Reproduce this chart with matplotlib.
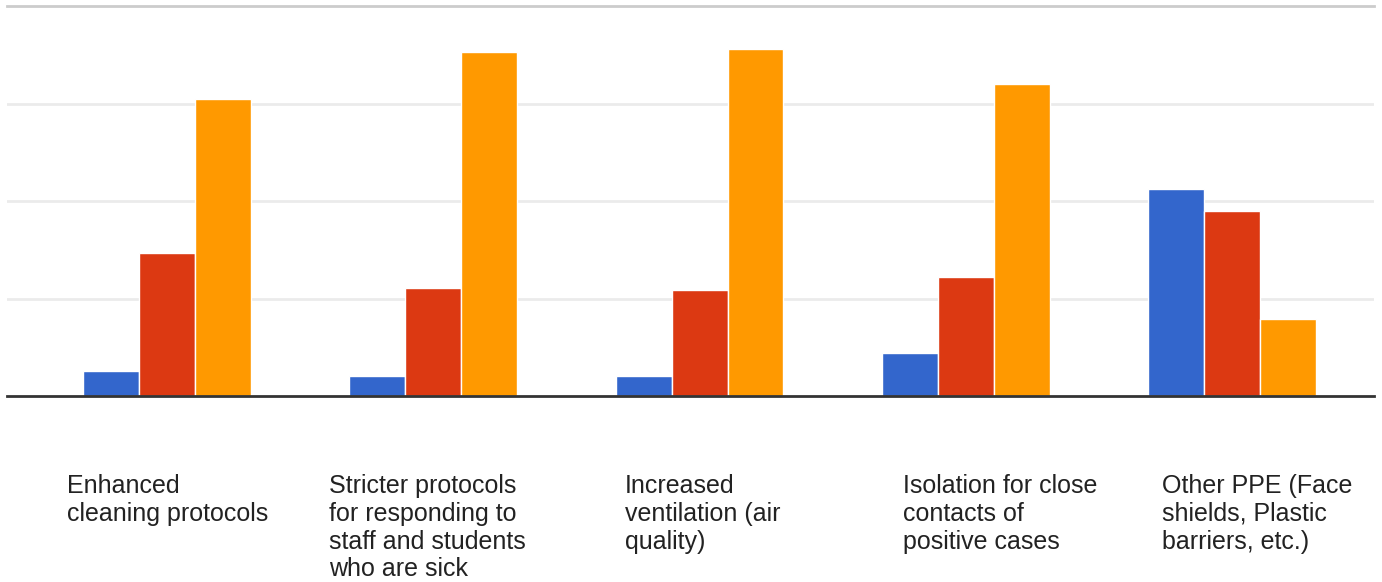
import matplotlib
matplotlib.use('Agg')
import matplotlib.pyplot as plt
import matplotlib.transforms as mtransforms
import numpy as np

categories = [
    'Enhanced\ncleaning protocols',
    'Stricter protocols\nfor responding to\nstaff and students\nwho are sick',
    'Increased\nventilation (air\nquality)',
    'Isolation for close\ncontacts of\npositive cases',
    'Other PPE (Face\nshields, Plastic\nbarriers, etc.)',
]
blue_vals = [2.6, 2.1, 2.1, 4.4, 21.2]
red_vals = [14.7, 11.1, 10.9, 12.2, 19.0]
orange_vals = [30.5, 35.3, 35.6, 32.0, 7.9]

colors = ['#3366cc', '#dc3912', '#ff9900']
label_offsets = [-0.377, -0.39, -0.28, -0.235, -0.262]  # left edge of label vs group centre

plt.rcParams['font.family'] = ['Liberation Sans', 'DejaVu Sans']

fig = plt.figure(figsize=(13.82, 5.82), dpi=100)
ax = fig.add_axes([7 / 1382, 186 / 582, 1367 / 1382, 390 / 582])

x = np.arange(len(categories))
w = 0.21
for k, vals in enumerate([blue_vals, red_vals, orange_vals]):
    ax.bar(x + (k - 1) * w, vals, width=w, color=colors[k],
           edgecolor='white', linewidth=1, zorder=3)

ax.set_xlim(-0.601, 4.533)
ax.set_ylim(0, 40)
ax.set_yticks([10, 20, 30])
ax.grid(axis='y', color='#ebebeb', linewidth=2, zorder=0)
ax.set_xticks([])
ax.tick_params(left=False, labelleft=False)

for side in ['left', 'right']:
    ax.spines[side].set_visible(False)
ax.spines['top'].set_color('#cccccc')
ax.spines['top'].set_linewidth(2)
ax.spines['bottom'].set_color('#333333')
ax.spines['bottom'].set_linewidth(2)
ax.spines['bottom'].set_zorder(4)

trans = mtransforms.blended_transform_factory(ax.transData, ax.transAxes)
for i, lab in enumerate(categories):
    ax.text(i + label_offsets[i], -0.2, lab, transform=trans,
            ha='left', va='top', fontsize=18, color='#222222', linespacing=1.2)

fig.savefig('out.png', dpi=100)
